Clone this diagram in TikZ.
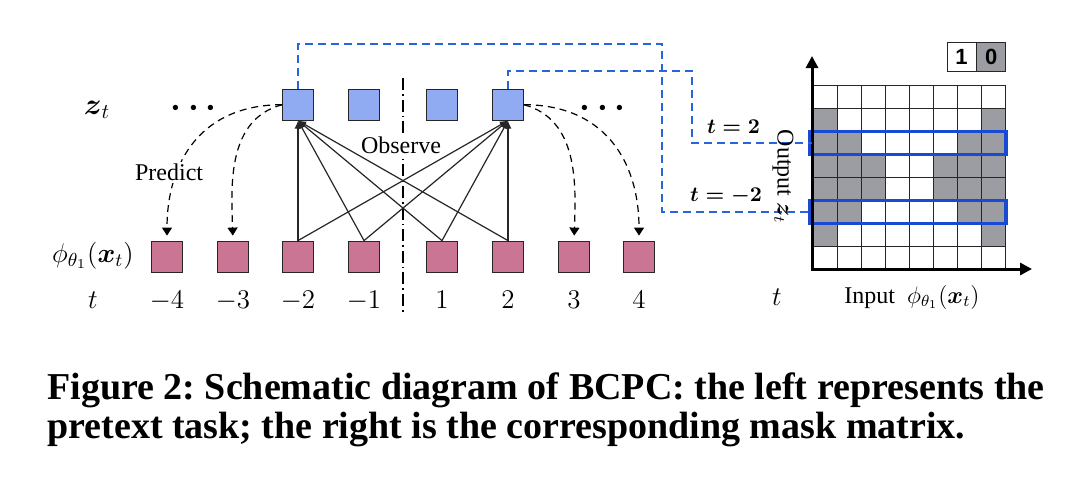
\RequirePackage{fix-cm}
\documentclass[tikz,border=0pt]{standalone}
\usepackage{amsmath}
\usepackage{fontspec}
\setmainfont{Liberation Serif}
\newfontfamily\legendfont{Liberation Sans}
\usetikzlibrary{positioning,arrows.meta}

\definecolor{zblue}{RGB}{144,171,242}
\definecolor{xpink}{RGB}{201,117,147}
\definecolor{linkblue}{RGB}{40,100,220}
\definecolor{hiblue}{RGB}{25,75,210}
\definecolor{maskgray}{RGB}{155,157,162}

\begin{document}
\frenchspacing
\begin{tikzpicture}[x=0.5pt,y=-0.5pt,
    every node/.style={font=\fontsize{12}{14}\selectfont},
    lab/.style={font=\fontsize{13.5}{15}\selectfont},
    zbox/.style={draw=black!85,fill=zblue,minimum size=15.5pt,inner sep=0pt},
    xbox/.style={draw=black!85,fill=xpink,minimum size=15.5pt,inner sep=0pt},
    legbox/.style={draw=black!85,minimum size=14.5pt,inner sep=0pt,font=\fontsize{11}{12}\legendfont\bfseries},
    obs/.style={-{Latex[length=4pt,width=3.5pt]},black!85,line width=0.6pt},
    pred/.style={-{Triangle[length=4pt,width=5pt]},dash pattern=on 3.5pt off 2.5pt,line width=0.6pt,shorten >=2.5pt},
    link/.style={linkblue,line width=0.8pt,dash pattern=on 4pt off 2.5pt},
    capfont/.style={font=\fontsize{19}{22}\selectfont\bfseries,inner sep=0pt,anchor=base west}
]
    \useasboundingbox (0,0) rectangle (1080,493);

    % Middle separator
    \draw[dash pattern=on 6pt off 2pt on 0.8pt off 2pt,line width=0.7pt] (403,78) -- (403,313);

    % Inputs and time steps
    \foreach \k/\x/\t in {1/167/-4,2/233/-3,3/298/-2,4/364/-1,5/442/1,6/508/2,7/574/3,8/639/4} {
        \node[xbox] (p\k) at (\x,256.5) {};
        \node[lab,below=6pt of p\k] (t\k) {$\t$};
    }
    % Outputs above the observed inputs
    \foreach \k in {3,...,6} {
        \node[zbox,above=60pt of p\k] (z\k) {};
    }

    % Observe: every observed input feeds both ends
    \foreach \i in {3,...,6} {
        \foreach \j in {3,6} {
            \draw[obs] (p\i.north) -- (z\j.south);
        }
    }
    \node[fill=white,inner sep=1pt] (observe) at (401,145) {Observe};

    % Predict: outside the window
    \draw[pred] (z3.west) to[out=180,in=90,looseness=1.15] node[pos=0.68,xshift=-4.5pt,fill=white,inner sep=1pt] (predict) {Predict} (p1.north);
    \draw[pred] (z3.west) to[out=195,in=92] (p2.north);
    \draw[pred] (z6.east) to[out=-15,in=88] (p7.north);
    \draw[pred] (z6.east) to[out=0,in=90,looseness=1.15] (p8.north);

    \node[font=\fontsize{17}{20}\selectfont] (dotsl) at (197,108) {$\boldsymbol{\cdots}$};
    \node[font=\fontsize{17}{20}\selectfont] (dotsr) at (606,108) {$\boldsymbol{\cdots}$};

    % Row labels
    \node[font=\fontsize{15}{16}\selectfont] (zlab) at (97,110) {$\boldsymbol{z}_t$};
    \node[lab,anchor=east,inner sep=0pt] (xlab) at (134,256) {$\phi_{\theta_1}(\boldsymbol{x}_t)$};
    \node[lab] (tlab) at (93,300) {$t$};

    % Mask matrix
    \foreach \r/\g in {0/0,1/1,2/2,3/3,4/3,5/2,6/1,7/0} {
        \ifnum\g>0
            \fill[maskgray] (813,85+23*\r) rectangle +(24*\g,23);
            \fill[maskgray] (1005-24*\g,85+23*\r) rectangle +(24*\g,23);
        \fi
    }
    \foreach \i in {0,...,8} {
        \draw[black!85,line width=0.5pt] (813+24*\i,85) -- (813+24*\i,269);
        \draw[black!85,line width=0.5pt] (813,85+23*\i) -- (1005,85+23*\i);
    }
    \draw[hiblue,line width=1.6pt] (810,131.5) rectangle (1006,154.5);
    \draw[hiblue,line width=1.6pt] (810,200.5) rectangle (1006,223.5);
    \coordinate (rowa) at (812,143);
    \coordinate (rowb) at (812,212);

    % Axes
    \draw[-{Triangle[length=6pt,width=6pt]},line width=1.5pt] (812,270) -- (812,56);
    \draw[-{Triangle[length=6pt,width=6pt]},line width=1.5pt] (811,269) -- (1032,269);

    % Legend
    \node[legbox,fill=white] (one) at (961.5,57) {1};
    \node[legbox,fill=maskgray,right=0pt of one] (zero) {0};

    % Links from outputs to matrix rows
    \draw[link] (z3.north) |- (662,44) |- (rowb);
    \draw[link] (z6.north) |- (692,71) |- (rowa);
    \node[font=\fontsize{10.5}{12}\selectfont] (ta) at (733.5,127) {$\boldsymbol{t=2}$};
    \node[font=\fontsize{10.5}{12}\selectfont] (tb) at (726,196) {$\boldsymbol{t=-2}$};

    \node[rotate=-90] (outlab) at (783,177) {Output $\boldsymbol{z}_t$};
    \node (inlab) at (912,297) {Input\ \ $\phi_{\theta_1}(\boldsymbol{x}_t)$};
    \node[lab] (tr) at (777,297) {$t$};

    % Caption
    \node[capfont] (cap1) at (47,399) {Figure 2: Schematic diagram of BCPC: the left represents the};
    \node[capfont] (cap2) at (47,438) {pretext task; the right is the corresponding mask matrix.};
\end{tikzpicture}
\end{document}
